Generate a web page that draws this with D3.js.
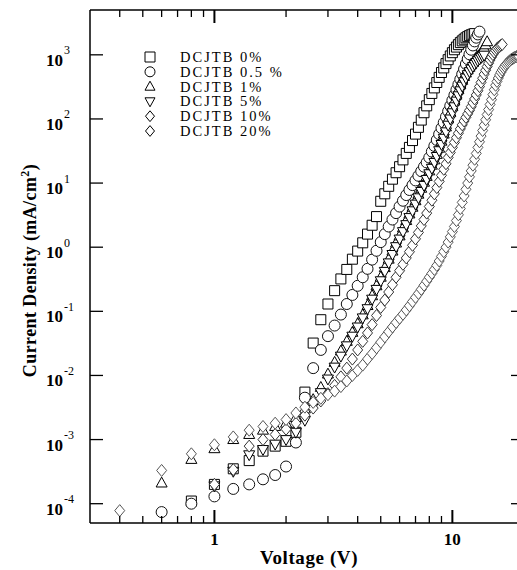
<!DOCTYPE html>
<html>
<head>
<meta charset="utf-8">
<script src="https://cdn.jsdelivr.net/npm/d3@7"></script>
<style>
  html, body { margin: 0; padding: 0; background: #fff; }
  svg { display: block; }
  text { font-family: "Liberation Serif", "Times New Roman", serif; fill: #000; }
</style>
</head>
<body>
<svg id="chart" width="517" height="570"></svg>
<script>
// J–V curves of devices with different DCJTB doping (voltage in V, current density in mA/cm²)
const legendLabels = ["DCJTB 0%", "DCJTB 0.5 %", "DCJTB 1%", "DCJTB 5%", "DCJTB 10%", "DCJTB 20%"];
const markerKinds = ["square", "circle", "triUp", "triDown", "diamond", "diamond"];

const v0 = [0.8,1.0,1.2,1.4,1.6,1.8,2.0,2.2,2.4,2.6,2.8,3.0,3.2,3.4,3.6,3.8,4.0,4.2,4.4,4.6,4.8,5.0,5.2,5.4,5.6,5.8,6.0,6.2,6.4,6.6,6.8,7.0,7.2,7.4,7.6,7.8,8.0,8.2,8.4,8.6,8.8,9.0,9.2,9.4,9.6,9.8,10.0,10.2,10.4,10.6,10.8,11.0,11.2,11.4,11.6,11.8,12.0,12.2,12.4];
const j0 = [1.1e-4,2.0e-4,3.5e-4,4.7e-4,6.6e-4,7.9e-4,9.4e-4,1.3e-3,5.5e-3,3.2e-2,7.4e-2,0.13,0.21,0.32,0.45,0.65,0.87,1.17,1.6,2.2,3.0,5.2,6.8,8.9,11.5,14.5,18,23,29,36,46,58,74,96,125,160,200,250,305,370,445,530,625,730,840,960,1080,1200,1320,1440,1550,1650,1750,1840,1920,1990,2050,2100,2140];

const v05 = [0.6,0.8,1.0,1.2,1.4,1.6,1.8,2.0,2.2,2.4,2.6,2.8,3.0,3.2,3.4,3.6,3.8,4.0,4.2,4.4,4.6,4.8,5.0,5.2,5.4,5.6,5.8,6.0,6.2,6.4,6.6,6.8,7.0,7.2,7.4,7.6,7.8,8.0,8.2,8.4,8.6,8.8,9.0,9.2,9.4,9.6,9.8,10.0,10.2,10.4,10.6,10.8,11.0,11.2,11.4,11.6,11.8,12.0,12.2,12.4,12.6,12.8,13.0];
const j05 = [7.4e-5,1.0e-4,1.3e-4,1.7e-4,2.0e-4,2.4e-4,2.8e-4,3.8e-4,9.0e-4,4.5e-3,1.3e-2,2.5e-2,4.1e-2,6.0e-2,8.9e-2,0.13,0.18,0.25,0.34,0.46,0.64,0.88,1.2,1.6,2.1,2.7,3.4,4.3,5.3,6.5,7.8,9.3,11,13,15.3,18,21,25,31,38,47,58,72,88,108,132,160,195,235,285,345,415,500,600,720,860,1020,1200,1400,1620,1850,2080,2300];

const v1 = [0.6,0.8,1.0,1.2,1.4,1.6,1.8,2.0,2.2,2.4,2.6,2.8,3.0,3.2,3.4,3.6,3.8,4.0,4.2,4.4,4.6,4.8,5.0,5.2,5.4,5.6,5.8,6.0,6.2,6.4,6.6,6.8,7.0,7.2,7.4,7.6,7.8,8.0,8.2,8.4,8.6,8.8,9.0,9.2,9.4,9.6,9.8,10.0,10.2,10.4,10.6,10.8,11.0,11.2,11.4,11.6,11.8,12.0,12.2,12.4,12.6,12.8,13.0,13.2,13.4,13.6,13.8,14.0];
const j1 = [2.1e-4,4.9e-4,7.2e-4,1.0e-3,1.2e-3,1.4e-3,1.6e-3,1.8e-3,2.2e-3,3.0e-3,4.2e-3,6.5e-3,1.05e-2,1.6e-2,2.4e-2,3.4e-2,4.7e-2,6.4e-2,8.8e-2,0.123,0.175,0.25,0.34,0.48,0.65,0.87,1.16,1.5,2.0,2.6,3.3,4.2,5.3,6.7,8.3,10.3,12.7,15.5,19,23,28,35,45,58,75,100,125,155,190,235,285,340,400,460,520,580,640,700,760,820,880,940,1000,1080,1170,1280,1430,1600];

const v5 = [1.0,1.2,1.4,1.6,1.8,2.0,2.2,2.4,2.6,2.8,3.0,3.2,3.4,3.6,3.8,4.0,4.2,4.4,4.6,4.8,5.0,5.2,5.4,5.6,5.8,6.0,6.2,6.4,6.6,6.8,7.0,7.2,7.4,7.6,7.8,8.0,8.2,8.4,8.6,8.8,9.0,9.2,9.4,9.6,9.8,10.0,10.2,10.4,10.6,10.8,11.0,11.2,11.4,11.6,11.8,12.0,12.2,12.4,12.6,12.8,13.0,13.2,13.4,13.6];
const j5 = [1.9e-4,3.2e-4,5.8e-4,7.0e-4,8.5e-4,1.0e-3,1.3e-3,2.0e-3,3.3e-3,5.4e-3,8.8e-3,1.35e-2,2.0e-2,2.9e-2,4.1e-2,5.7e-2,7.9e-2,0.11,0.155,0.22,0.30,0.42,0.57,0.77,1.02,1.34,1.75,2.25,2.9,3.7,4.7,5.9,7.4,9.2,11.4,14,17,21,26,32,40,50,63,80,100,125,155,190,230,275,325,380,435,490,545,600,655,710,760,810,860,905,950,990];

const v10 = [1.0,1.2,1.4,1.6,1.8,2.0,2.2,2.4,2.6,2.8,3.0,3.2,3.4,3.6,3.8,4.0,4.2,4.4,4.6,4.8,5.0,5.2,5.4,5.6,5.8,6.0,6.2,6.4,6.6,6.8,7.0,7.2,7.4,7.6,7.8,8.0,8.2,8.4,8.6,8.8,9.0,9.2,9.4,9.6,9.8,10.0,10.2,10.4,10.6,10.8,11.0,11.2,11.4,11.6,11.8,12.0,12.2,12.4,12.6,12.8,13.0,13.2,13.4,13.6,13.8,14.0,14.2,14.4,14.6,14.8,15.0,15.2,15.4,15.6,15.8,16.0,16.2];
const j10 = [2.0e-4,3.4e-4,7.9e-4,1.0e-3,1.2e-3,1.45e-3,1.8e-3,2.4e-3,3.1e-3,4.0e-3,5.2e-3,7.0e-3,9.5e-3,1.3e-2,1.8e-2,2.5e-2,3.4e-2,4.6e-2,6.2e-2,8.6e-2,0.115,0.15,0.20,0.26,0.34,0.43,0.54,0.68,0.85,1.07,1.35,1.7,2.15,2.7,3.4,4.3,5.4,6.8,8.5,10.6,13.2,16.4,20,25,30,36,43,51,60,70,81,93,106,120,136,155,178,205,237,275,320,372,432,500,575,655,740,830,920,1010,1100,1180,1250,1310,1360,1410,1450];

const v20 = [0.4,0.6,0.8,1.0,1.2,1.4,1.6,1.8,2.0,2.2,2.4,2.6,2.8,3.0,3.2,3.4,3.6,3.8,4.0,4.2,4.4,4.6,4.8,5.0,5.2,5.4,5.6,5.8,6.0,6.2,6.4,6.6,6.8,7.0,7.2,7.4,7.6,7.8,8.0,8.2,8.4,8.6,8.8,9.0,9.2,9.4,9.6,9.8,10.0,10.2,10.4,10.6,10.8,11.0,11.2,11.4,11.6,11.8,12.0,12.2,12.4,12.6,12.8,13.0,13.2,13.4,13.6,13.8,14.0,14.2,14.4,14.6,14.8,15.0,15.2,15.4,15.6,15.8,16.0,16.2,16.4,16.6,16.8,17.0,17.2,17.4,17.6,17.8,18.0,18.2,18.4,18.6,18.8,19.0];
const j20 = [7.8e-5,3.3e-4,6.0e-4,8.3e-4,1.1e-3,1.4e-3,1.6e-3,1.8e-3,2.05e-3,2.6e-3,3.2e-3,3.8e-3,4.4e-3,5.0e-3,5.7e-3,6.7e-3,8.2e-3,1.0e-2,1.2e-2,1.45e-2,1.8e-2,2.2e-2,2.7e-2,3.3e-2,4.0e-2,4.8e-2,5.7e-2,6.7e-2,7.8e-2,9.0e-2,0.105,0.122,0.142,0.165,0.19,0.22,0.255,0.295,0.34,0.39,0.45,0.52,0.61,0.72,0.85,1.0,1.2,1.45,1.75,2.1,2.6,3.2,4.0,5.0,6.3,8.0,10,12.5,15.5,19,23.5,29,36,44,54,66,80,97,117,140,168,200,240,285,335,385,435,485,535,580,625,665,705,740,775,805,835,860,885,905,925,940,955,965];

// axis ticks
const yMajorTicks = [1e-4, 1e-3, 1e-2, 1e-1, 1e0, 1e1, 1e2, 1e3];
const yTickExponents = ["-4", "-3", "-2", "-1", "0", "1", "2", "3"];
const xMajorTicks = [1, 10];
const xMinorTicks = [0.4, 0.5, 0.6, 0.7, 0.8, 0.9, 2, 3, 4, 5, 6, 7, 8, 9];
const xTickLabels = ["1", "10"];

const seriesV = [v0, v05, v1, v5, v10, v20];
const seriesJ = [j0, j05, j1, j5, j10, j20];

const svg = d3.select("#chart");
const pLeft = 90, pRight = 524, pTop = 10, pBottom = 523;

const x = d3.scaleLog().domain([0.3, 20]).range([pLeft, pRight]);
const y = d3.scaleLog().domain([5e-5, 5e3]).range([pBottom, pTop]);

// marker paths centred on the origin
function markerPath(kind, s) {
  const p = d3.path();
  if (kind === "square") {
    p.rect(-s / 2, -s / 2, s, s);
  } else if (kind === "circle") {
    p.arc(0, 0, s / 2, 0, 2 * Math.PI);
  } else if (kind === "triUp") {
    const h = s * 0.9;
    p.moveTo(0, -h * 0.6); p.lineTo(s / 2, h * 0.4); p.lineTo(-s / 2, h * 0.4); p.closePath();
  } else if (kind === "triDown") {
    const h = s * 0.9;
    p.moveTo(0, h * 0.6); p.lineTo(s / 2, -h * 0.4); p.lineTo(-s / 2, -h * 0.4); p.closePath();
  } else {
    p.moveTo(0, -s * 0.6); p.lineTo(s * 0.5, 0); p.lineTo(0, s * 0.6); p.lineTo(-s * 0.5, 0); p.closePath();
  }
  return p.toString();
}
const plotSize = [10, 11, 11, 11, 10, 10];
const strokeCol = ["#000", "#111", "#000", "#000", "#333", "#555"];

// data markers
const plot = svg.append("g");
seriesV.forEach((vs, i) => {
  const pts = vs.map((v, k) => ({ v, j: seriesJ[i][k] }));
  plot.append("g").selectAll("path").data(pts).join("path")
    .attr("transform", d => `translate(${x(d.v)},${y(d.j)})`)
    .attr("d", markerPath(markerKinds[i], plotSize[i]))
    .attr("fill", "#fff")
    .attr("stroke", strokeCol[i])
    .attr("stroke-width", 1);
});

// frame
const frame = svg.append("g").attr("stroke", "#000").attr("stroke-width", 1.5).attr("fill", "none");
frame.append("line").attr("x1", pLeft).attr("x2", pLeft).attr("y1", pTop).attr("y2", pBottom);
frame.append("line").attr("x1", pLeft).attr("x2", pRight).attr("y1", pBottom).attr("y2", pBottom);
frame.append("line").attr("x1", pLeft).attr("x2", pRight).attr("y1", pTop).attr("y2", pTop);
frame.append("line").attr("x1", pRight).attr("x2", pRight).attr("y1", pTop).attr("y2", pBottom);

// ticks (all pointing inward)
const tk = svg.append("g").attr("stroke", "#000").attr("stroke-width", 1.3);
yMajorTicks.forEach(t => {
  tk.append("line").attr("x1", pLeft).attr("x2", pLeft + 13).attr("y1", y(t)).attr("y2", y(t));
  tk.append("line").attr("x1", pRight).attr("x2", pRight - 13).attr("y1", y(t)).attr("y2", y(t));
});
xMajorTicks.forEach(t => {
  tk.append("line").attr("x1", x(t)).attr("x2", x(t)).attr("y1", pBottom).attr("y2", pBottom - 13).attr("stroke-width", 2);
  tk.append("line").attr("x1", x(t)).attr("x2", x(t)).attr("y1", pTop).attr("y2", pTop + 13).attr("stroke-width", 2);
});
xMinorTicks.forEach(t => {
  tk.append("line").attr("x1", x(t)).attr("x2", x(t)).attr("y1", pBottom).attr("y2", pBottom - 7);
  tk.append("line").attr("x1", x(t)).attr("x2", x(t)).attr("y1", pTop).attr("y2", pTop + 7);
});

// y tick labels: 10 with superscript exponent
yMajorTicks.forEach((t, i) => {
  svg.append("text").attr("x", 63).attr("y", y(t) + 11)
    .attr("text-anchor", "end").attr("font-size", 17).attr("font-weight", "bold").text("10");
  svg.append("text").attr("x", 64).attr("y", y(t) - 0.5)
    .attr("font-size", 12).text(yTickExponents[i]);
});

// x tick labels
xMajorTicks.forEach((t, i) => {
  svg.append("text").attr("x", x(t)).attr("y", 545)
    .attr("text-anchor", "middle").attr("font-size", 17).attr("font-weight", "bold").text(xTickLabels[i]);
});

// axis titles
svg.append("text").attr("x", 309).attr("y", 564)
  .attr("text-anchor", "middle").attr("font-size", 19).attr("font-weight", "bold")
  .attr("letter-spacing", 0.6).text("Voltage (V)");

const yTitle = svg.append("text")
  .attr("transform", `translate(36,${(pTop + pBottom) / 2 + 4}) rotate(-90)`)
  .attr("text-anchor", "middle").attr("font-size", 18).attr("font-weight", "bold")
  .attr("letter-spacing", 0.4);
yTitle.append("tspan").text("Current Density (mA/cm");
yTitle.append("tspan").attr("dy", -7).attr("font-size", 12).text("2");
yTitle.append("tspan").attr("dy", 7).text(")");

// legend
const legendSize = [10, 10, 10, 10, 9, 9];
const legend = svg.append("g");
legendLabels.forEach((lab, i) => {
  const ly = 57 + i * 14.8;
  legend.append("path")
    .attr("transform", `translate(150,${ly})`)
    .attr("d", markerPath(markerKinds[i], legendSize[i]))
    .attr("fill", "#fff").attr("stroke", "#000").attr("stroke-width", 1);
  legend.append("text").attr("x", 180).attr("y", ly + 5)
    .attr("font-size", 14.5).attr("letter-spacing", 2).text(lab);
});
</script>
</body>
</html>
